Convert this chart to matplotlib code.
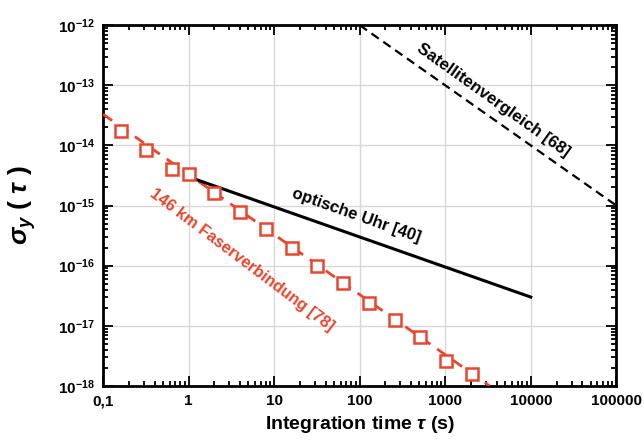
import math
import matplotlib
matplotlib.use("Agg")
import matplotlib.pyplot as plt
from matplotlib.ticker import LogLocator, FuncFormatter, NullFormatter

plt.rcParams['font.family'] = ['Liberation Sans', 'DejaVu Sans']
plt.rcParams['font.weight'] = 'bold'
plt.rcParams['mathtext.fontset'] = 'custom'
plt.rcParams['mathtext.rm'] = 'Liberation Sans:bold'
plt.rcParams['mathtext.it'] = 'Liberation Sans:italic:bold'
plt.rcParams['mathtext.bf'] = 'Liberation Sans:bold'

# 146 km fibre link, measured points
fiber_tau = [0.16, 0.32, 0.64, 1, 2, 4, 8, 16, 32, 64, 128, 256, 512, 1024, 2048]
fiber_sigma = [1.74e-14, 8.3e-15, 4.1e-15, 3.4e-15, 1.6e-15, 7.8e-16, 4.1e-16,
               2.0e-16, 1.0e-16, 5.2e-17, 2.4e-17, 1.25e-17, 6.6e-18, 2.6e-18, 1.55e-18]
# 1/tau fit through the fibre data
fit_tau = [0.1, 3300]
fit_sigma = [3.3e-14, 1.0e-18]
# optical clock
clock_tau = [1, 10000]
clock_sigma = [3e-15, 3e-17]
# satellite comparison
sat_tau = [100, 100000]
sat_sigma = [1e-12, 1e-15]

x_ticks = [0.1, 1, 10, 100, 1000, 10000, 100000]
y_ticks = [1e-18, 1e-17, 1e-16, 1e-15, 1e-14, 1e-13, 1e-12]

red = '#e8462e'

fig = plt.figure(figsize=(6.44, 4.42), dpi=100)
ax = fig.add_axes([0.16, 0.127, 0.797, 0.816])

ax.plot(fit_tau, fit_sigma, color=red, lw=2, ls=(0, (4, 3)), zorder=3)
ax.plot(fiber_tau, fiber_sigma, ls='none', marker='s', ms=8.5, mfc='white',
        mec=red, mew=1.8, zorder=4)
ax.plot(clock_tau, clock_sigma, color='black', lw=2.2, zorder=3)
ax.plot(sat_tau, sat_sigma, color='black', lw=1.6, ls=(0, (4, 2.5)), zorder=3)

ax.set_xscale('log')
ax.set_yscale('log')
ax.set_xlim(0.1, 100000)
ax.set_ylim(1e-18, 1e-12)

ax.set_xticks(x_ticks)
ax.set_yticks(y_ticks)
ax.xaxis.set_minor_locator(LogLocator(base=10, subs=range(2, 10), numticks=20))
ax.yaxis.set_minor_locator(LogLocator(base=10, subs=range(2, 10), numticks=20))
ax.xaxis.set_minor_formatter(NullFormatter())
ax.yaxis.set_minor_formatter(NullFormatter())


def xfmt(v, pos):
    if v < 1:
        return '{:g}'.format(v).replace('.', ',')
    return '{:d}'.format(int(round(v)))


ax.xaxis.set_major_formatter(FuncFormatter(xfmt))
ax.yaxis.set_major_formatter(FuncFormatter(
    lambda v, pos: r'$10^{%d}$' % round(math.log10(v))))

ax.tick_params(which='both', direction='in', top=True, right=True, width=1.3)
ax.tick_params(which='major', length=7, labelsize=11, pad=6)
ax.tick_params(which='minor', length=3.5)
for s in ax.spines.values():
    s.set_linewidth(2)

ax.grid(True, which='major', color='#d8d8d8', lw=1)
ax.set_axisbelow(True)

ax.set_xlabel(r'Integration time $\tau$ (s)', fontsize=14, fontweight='bold', labelpad=4)
ax.set_ylabel(r'$\sigma_y$ ( $\tau$ )', fontsize=19, fontweight='bold', labelpad=14)

ax.text(3600, 5.6e-14, 'Satellitenvergleich [68]', rotation=-35.5, ha='center',
        va='center', fontsize=12.2, fontweight='bold')
ax.text(91, 6.8e-16, 'optische Uhr [40]', rotation=-19.5, ha='center',
        va='center', fontsize=12, fontweight='bold')
ax.text(4.2, 1.25e-16, '146 km Faserverbindung [78]', rotation=-37, ha='center',
        va='center', fontsize=11.8, fontweight='bold', color=red)

fig.savefig('out.png', dpi=100)
